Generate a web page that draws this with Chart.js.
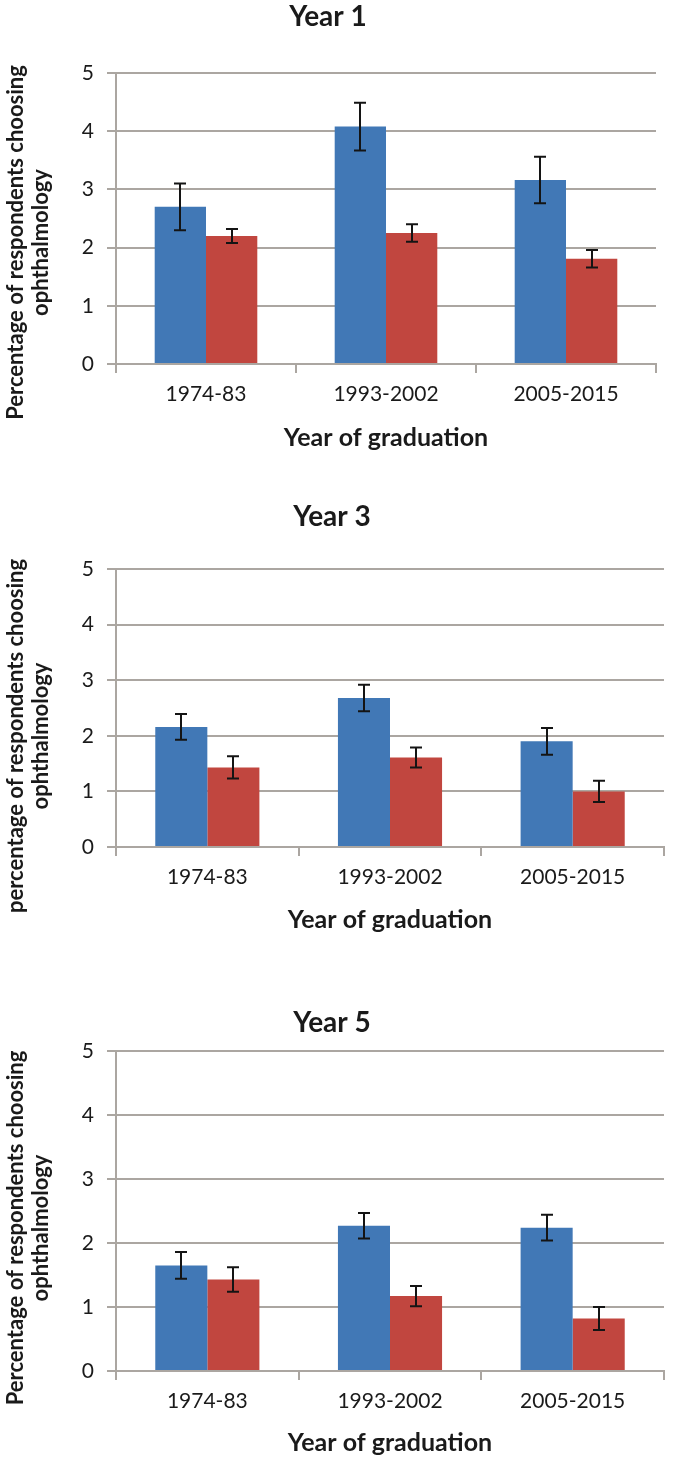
<!DOCTYPE html>
<html>
<head>
<meta charset="utf-8">
<script src="https://cdn.jsdelivr.net/npm/chart.js@4.4.1/dist/chart.umd.min.js"></script>
<style>
  html, body { margin: 0; padding: 0; background: #ffffff; }
  body { width: 680px; height: 1463px; position: relative; overflow: hidden; }
  .panel { position: absolute; left: 0; width: 680px; }
  canvas { display: block; }
</style>
</head>
<body>
<div class="panel" style="top:0px;height:480px"><canvas id="c1" width="680" height="480"></canvas></div>
<div class="panel" style="top:480px;height:495px"><canvas id="c2" width="680" height="495"></canvas></div>
<div class="panel" style="top:975px;height:488px"><canvas id="c3" width="680" height="488"></canvas></div>
<script>
// ---- data ----
const categories = ['1974-83', '1993-2002', '2005-2015'];
const yTickValues = [0, 1, 2, 3, 4, 5];
const xAxisTitle = 'Year of graduation';
const yTitleLine2 = 'ophthalmology';

const year1Title = 'Year 1';
const year1YTitle = 'Percentage of respondents choosing';
const year1Blue = [2.70, 4.08, 3.16];
const year1BlueErr = [0.40, 0.41, 0.40];
const year1Red = [2.20, 2.25, 1.81];
const year1RedErr = [0.12, 0.15, 0.15];

const year3Title = 'Year 3';
const year3YTitle = 'percentage of respondents choosing';
const year3Blue = [2.16, 2.68, 1.90];
const year3BlueErr = [0.23, 0.24, 0.24];
const year3Red = [1.43, 1.61, 1.00];
const year3RedErr = [0.20, 0.18, 0.19];

const year5Title = 'Year 5';
const year5YTitle = 'Percentage of respondents choosing';
const year5Blue = [1.65, 2.27, 2.24];
const year5BlueErr = [0.21, 0.20, 0.20];
const year5Red = [1.43, 1.17, 0.82];
const year5RedErr = [0.19, 0.16, 0.18];

// ---- styles ----
const BLUE = '#4178b6';
const RED = '#c1463f';
const GRID = '#aba6a1';
const TEXT = '#1a1a1a';
const FONT = 'Lato, "Open Sans", sans-serif';

// error bars drawn through the y scale
const errorBarPlugin = {
  id: 'errorBars',
  afterDatasetsDraw(chart) {
    const ctx = chart.ctx;
    const yScale = chart.scales.y;
    ctx.save();
    ctx.strokeStyle = '#141414';
    ctx.lineWidth = 2;
    chart.data.datasets.forEach((ds, di) => {
      const meta = chart.getDatasetMeta(di);
      meta.data.forEach((bar, i) => {
        const v = ds.data[i];
        const e = ds.errors[i];
        const x = Math.round(bar.x);
        const yTop = yScale.getPixelForValue(v + e);
        const yBot = yScale.getPixelForValue(v - e);
        const cap = 6;
        ctx.beginPath();
        ctx.moveTo(x, yTop); ctx.lineTo(x, yBot);
        ctx.moveTo(x - cap, yTop); ctx.lineTo(x + cap, yTop);
        ctx.moveTo(x - cap, yBot); ctx.lineTo(x + cap, yBot);
        ctx.stroke();
      });
    });
    ctx.restore();
  }
};

// rotated two-line y-axis title
const yTitlePlugin = {
  id: 'yTitle',
  afterDraw(chart, args, opts) {
    const ctx = chart.ctx;
    const ca = chart.chartArea;
    const cy = (ca.top + ca.bottom) / 2 + opts.shift;
    ctx.save();
    ctx.fillStyle = TEXT;
    ctx.font = 'bold 22px ' + FONT;
    ctx.textAlign = 'center';
    ctx.textBaseline = 'middle';
    opts.lines.forEach((line, k) => {
      ctx.save();
      ctx.translate(opts.x[k], cy);
      ctx.rotate(-Math.PI / 2);
      ctx.fillText(line, 0, 0);
      ctx.restore();
    });
    ctx.restore();
  }
};

function makePanel(id, title, yTitle, blue, blueErr, red, redErr, lay) {
  const canvas = document.getElementById(id);
  return new Chart(canvas, {
    type: 'bar',
    data: {
      labels: categories,
      datasets: [
        { data: blue, errors: blueErr, backgroundColor: BLUE, borderWidth: 0 },
        { data: red, errors: redErr, backgroundColor: RED, borderWidth: 0 }
      ]
    },
    options: {
      responsive: false,
      animation: false,
      devicePixelRatio: 1,
      categoryPercentage: 0.57,
      barPercentage: 1.0,
      layout: { padding: { left: 0, right: lay.padRight, top: 0, bottom: 0 } },
      plugins: {
        legend: { display: false },
        tooltip: { enabled: false },
        title: {
          display: true,
          text: title,
          color: TEXT,
          font: { family: FONT, size: 28, weight: 'bold', lineHeight: 1.2 },
          padding: { top: lay.titleTop, bottom: lay.titleBottom }
        },
        yTitle: { lines: [yTitle, yTitleLine2], x: [16, 41], shift: lay.yTitleShift }
      },
      scales: {
        x: {
          offset: true,
          grid: { display: true, drawOnChartArea: false, drawTicks: true, tickLength: 9, color: GRID, lineWidth: 2, offset: true },
          border: { display: true, color: GRID, width: 2 },
          ticks: { color: TEXT, font: { family: FONT, size: 21, lineHeight: 1.2 }, padding: 9, maxRotation: 0 },
          title: { display: true, text: xAxisTitle, color: TEXT, font: { family: FONT, size: 25, weight: 'bold', lineHeight: 1.2 }, padding: { top: 0, bottom: lay.xTitleBottom } },
          afterFit(s) { s.height = lay.xHeight; }
        },
        y: {
          min: 0, max: 5,
          afterBuildTicks(s) { s.ticks = yTickValues.map(v => ({ value: v })); },
          grid: { color: GRID, lineWidth: 2, drawTicks: true, tickLength: 9 },
          border: { display: true, color: GRID, width: 2 },
          ticks: { color: TEXT, font: { family: FONT, size: 21 }, padding: 13 },
          afterFit(s) { s.width = 116; }
        }
      }
    },
    plugins: [errorBarPlugin, yTitlePlugin]
  });
}

// chart area targets: P1 top 73 bottom 364 right 656; P2 top 89 bottom 367 right 664; P3 top 76 bottom 396 right 664
makePanel('c1', year1Title, year1YTitle, year1Blue, year1BlueErr, year1Red, year1RedErr,
  { padRight: 24, titleTop: 0.2, titleBottom: 39.2, xHeight: 116, xTitleBottom: 27, yTitleShift: 24 });
makePanel('c2', year3Title, year3YTitle, year3Blue, year3BlueErr, year3Red, year3RedErr,
  { padRight: 16, titleTop: 20.2, titleBottom: 35.2, xHeight: 128, xTitleBottom: 40.5, yTitleShift: 28 });
makePanel('c3', year5Title, year5YTitle, year5Blue, year5BlueErr, year5Red, year5RedErr,
  { padRight: 16, titleTop: 31.2, titleBottom: 11.2, xHeight: 92, xTitleBottom: 5.5, yTitleShift: 17 });
</script>
</body>
</html>
